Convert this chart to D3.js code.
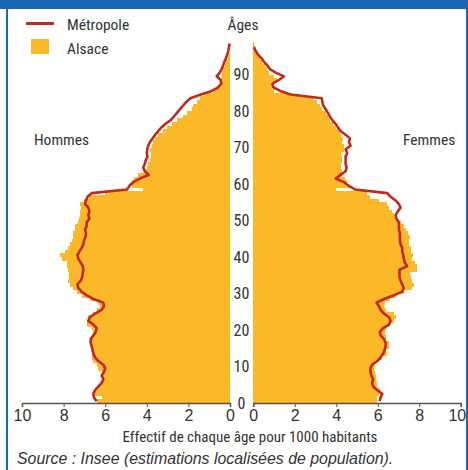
<!DOCTYPE html>
<html><head><meta charset="utf-8">
<script src="https://cdn.jsdelivr.net/npm/d3@7/dist/d3.min.js"></script>
<style>
html,body{margin:0;padding:0;background:#fff;}
svg{display:block;}
text{font-family:"Liberation Sans Narrow","Arial Narrow","Roboto Condensed",sans-serif;fill:#333;}
</style></head>
<body>
<svg id="c" width="468" height="470"></svg>
<script>
// ages 0..99
const ages = d3.range(0, 100);
const alsaceHommes = [6.38,6.17,6.49,6.44,6.41,6.25,6.09,6.09,6.17,6.33,
6.41,6.57,6.65,6.65,6.7,6.7,6.73,6.73,6.65,6.57,
6.65,6.89,6.89,6.81,6.57,6.41,6.25,6.33,6.73,7.13,
7.37,7.53,7.7,7.77,7.75,7.72,7.77,7.85,7.85,8.1,
8.17,7.93,7.77,7.7,7.6,7.53,7.53,7.45,7.45,7.29,
7.24,7.2,7.2,7.18,7.2,7.0,6.8,6.0,4.2,4.7,
4.7,4.6,4.4,4.15,4.0,3.95,3.85,3.8,3.8,3.85,
3.77,3.72,3.6,3.45,3.2,3.04,2.8,2.56,2.28,2.08,
1.84,1.76,1.6,1.44,1.2,0.8,0.64,0.48,0.45,0.4,
0.4,0.32,0.24,0.19,0.08,0.03,0.02,0.01,0,0];
const alsaceFemmes = [5.95,5.98,6.06,6.1,5.98,5.95,5.9,5.9,5.85,5.8,
5.85,5.98,6.2,6.45,6.42,6.55,6.55,6.42,6.42,6.33,
6.38,6.55,6.78,6.9,6.78,6.42,6.3,6.33,6.6,6.86,
7.26,7.66,7.74,7.66,7.58,7.55,7.87,7.9,7.82,7.66,
7.7,7.61,7.58,7.5,7.5,7.55,7.45,7.34,7.29,7.1,
6.94,6.78,6.7,6.54,6.43,6.06,5.65,5.5,4.0,4.6,
4.5,4.4,4.3,4.3,4.25,4.25,4.3,4.3,4.24,4.37,
4.37,4.29,4.34,4.25,4.2,3.97,3.86,3.69,3.6,3.49,
3.33,3.21,3.05,2.89,1.85,1.0,0.92,0.84,1.16,1.0,
0.76,0.67,0.55,0.43,0.32,0.19,0.11,0.06,0.03,0];
const metropoleHommes = [6.41,6.54,6.57,6.49,6.33,6.17,6.09,6.17,6.06,6.0,
6.09,6.33,6.49,6.57,6.6,6.65,6.7,6.7,6.57,6.45,
6.41,6.57,6.81,6.73,6.49,6.17,6.06,6.09,6.57,6.89,
7.13,7.29,7.34,7.18,7.1,7.08,7.05,7.08,7.18,7.29,
7.34,7.24,7.13,7.05,7.02,6.95,6.92,6.97,6.89,6.89,
6.76,6.81,6.76,6.81,6.97,6.92,6.85,6.65,4.95,4.84,
4.65,4.33,3.9,4.1,4.17,4.1,4.05,3.97,4.0,3.98,
3.93,3.85,3.72,3.6,3.45,3.3,3.1,2.85,2.7,2.55,
2.4,2.25,2.1,1.9,1.4,0.88,0.56,0.42,0.45,0.64,
0.5,0.4,0.33,0.27,0.19,0.13,0.08,0.05,0.02];
const metropoleFemmes = [6.09,6.14,6.22,5.98,5.78,5.73,5.78,5.69,5.65,5.65,
5.73,5.98,6.14,6.26,6.33,6.38,6.38,6.3,6.14,6.1,
6.26,6.55,6.62,6.55,6.3,6.14,6.06,5.94,6.3,6.78,
7.18,7.26,7.18,7.1,7.05,7.05,7.05,7.42,7.3,7.26,
7.23,7.18,7.18,7.1,7.07,7.07,7.07,7.02,7.02,7.02,
6.9,6.86,6.97,7.1,7.02,6.86,6.62,6.46,4.9,4.61,
4.37,3.97,4.21,4.45,4.5,4.45,4.45,4.45,4.53,4.45,
4.69,4.61,4.66,4.45,4.21,4.08,3.97,3.81,3.69,3.6,
3.49,3.37,3.33,3.3,1.8,1.3,0.96,0.92,1.24,1.48,
1.08,0.8,0.67,0.51,0.39,0.22,0.11,0.03];
const xTicks = [0, 2, 4, 6, 8, 10];
const ageTicks = [0, 10, 20, 30, 40, 50, 60, 70, 80, 90];
const legendLabels = ["Métropole", "Alsace"];
const sexLabels = ["Hommes", "Femmes"];
const ageTitle = "Âges";
const axisTitle = "Effectif de chaque âge pour 1000 habitants";
const sourceText = "Source : Insee (estimations localisées de population).";

const BAR = "#fbb829", LINE = "#c1291d", BLUE = "#1767b2", AXIS = "#555";
const FS = "15.5px";
const svg = d3.select("#c");

// frame
svg.append("rect").attr("x",0).attr("y",0).attr("width",468).attr("height",9).attr("fill",BLUE);
svg.append("rect").attr("x",6).attr("y",0).attr("width",2).attr("height",470).attr("fill",BLUE);
svg.append("rect").attr("x",466).attr("y",0).attr("width",2).attr("height",470).attr("fill",BLUE);

const y = d3.scaleLinear().domain([0, 100]).range([403, 38]);
const xL = d3.scaleLinear().domain([0, 10]).range([230, 22]);
const xR = d3.scaleLinear().domain([0, 10]).range([253.3, 460.7]);

// bars
const gb = svg.append("g").attr("shape-rendering","crispEdges");
gb.selectAll("rect.l").data(ages).join("rect").attr("class","l")
  .attr("x", a => xL(alsaceHommes[a])).attr("y", a => y(a+1))
  .attr("width", a => xL(0) - xL(alsaceHommes[a])).attr("height", a => y(a) - y(a+1) + 0.4)
  .attr("fill", BAR);
gb.selectAll("rect.r").data(ages).join("rect").attr("class","r")
  .attr("x", xR(0)).attr("y", a => y(a+1))
  .attr("width", a => xR(alsaceFemmes[a]) - xR(0)).attr("height", a => y(a) - y(a+1) + 0.4)
  .attr("fill", BAR);

// lines
const lineL = d3.line().x(d => xL(d[1])).y(d => y(d[0] + 0.5));
const lineR = d3.line().x(d => xR(d[1])).y(d => y(d[0] + 0.5));
svg.append("path").attr("d", lineL(metropoleHommes.map((v,i)=>[i,v])))
  .attr("fill","none").attr("stroke",LINE).attr("stroke-width",2.6).attr("stroke-linejoin","round");
svg.append("path").attr("d", lineR(metropoleFemmes.map((v,i)=>[i,v])))
  .attr("fill","none").attr("stroke",LINE).attr("stroke-width",2.6).attr("stroke-linejoin","round");

// axes
function styleAxis(g){
  g.select(".domain").attr("stroke",AXIS).attr("stroke-width",1.5);
  g.selectAll(".tick line").attr("stroke",AXIS).attr("stroke-width",1);
  g.selectAll(".tick text").attr("fill","#333").style("font-size","16px")
   .style("font-family",'"Liberation Sans Narrow","Arial Narrow",sans-serif');
}
svg.append("g").attr("transform","translate(0,403)")
  .call(d3.axisBottom(xL).tickValues(xTicks).tickSize(4).tickSizeOuter(4).tickPadding(3).tickFormat(d3.format("d")))
  .call(styleAxis);
const gR = svg.append("g").attr("transform","translate(0,403)")
  .call(d3.axisBottom(xR).tickValues(xTicks).tickSize(4).tickSizeOuter(4).tickPadding(3).tickFormat(d3.format("d")))
  .call(styleAxis);
// keep the last label inside the frame, as in the original
gR.selectAll(".tick text").filter(d => d === 10).attr("text-anchor","end").attr("x", 5);

// age labels
svg.selectAll("text.age").data(ageTicks).join("text").attr("class","age")
  .attr("x", 241.5).attr("y", d => y(d)).attr("dy","0.36em")
  .attr("text-anchor","middle").style("font-size","16px").text(d => d);
svg.append("text").attr("x",243).attr("y",30).attr("text-anchor","middle").style("font-size",FS).text(ageTitle);

// legend
svg.append("line").attr("x1",26).attr("x2",54).attr("y1",23.5).attr("y2",23.5).attr("stroke",LINE).attr("stroke-width",3);
svg.append("rect").attr("x",31).attr("y",39).attr("width",18).attr("height",15).attr("fill",BAR);
svg.append("text").attr("x",67).attr("y",30).style("font-size",FS).text(legendLabels[0]);
svg.append("text").attr("x",67).attr("y",54).style("font-size",FS).text(legendLabels[1]);

svg.append("text").attr("x",34).attr("y",145).style("font-size",FS).text(sexLabels[0]);
svg.append("text").attr("x",403).attr("y",145).style("font-size",FS).text(sexLabels[1]);

svg.append("text").attr("x",250).attr("y",442).attr("text-anchor","middle").style("font-size","15px").text(axisTitle);
svg.append("text").attr("x",17).attr("y",464).style("font-size","15.9px").style("font-style","italic")
  .style("font-family",'"Liberation Sans","Arial",sans-serif').text(sourceText);
</script>
</body></html>
